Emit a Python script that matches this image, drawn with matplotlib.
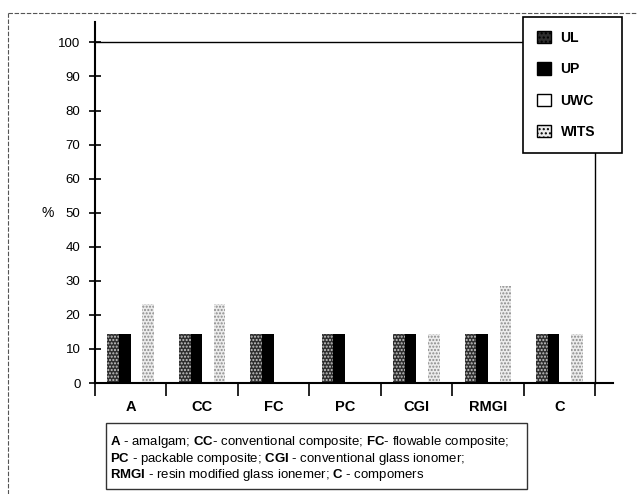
import numpy as np
import matplotlib.pyplot as plt
from matplotlib.patches import Rectangle, Patch
from matplotlib.lines import Line2D

plt.rcParams['font.family'] = ['Liberation Sans', 'DejaVu Sans']
plt.rcParams['mathtext.fontset'] = 'custom'
plt.rcParams['mathtext.rm'] = 'Liberation Sans'
plt.rcParams['mathtext.bf'] = 'Liberation Sans:bold'
plt.rcParams['hatch.linewidth'] = 1.0

# adatok
categories = ['A', 'CC', 'FC', 'PC', 'CGI', 'RMGI', 'C']
series = ['UL', 'UP', 'UWC', 'WITS']
ul = [14.3, 14.3, 14.3, 14.3, 14.3, 14.3, 14.3]
up = [14.3, 14.3, 14.3, 14.3, 14.3, 14.3, 14.3]
uwc = [0, 0, 0, 0, 0, 0, 0]
wits = [23.1, 23.1, 0, 0, 14.3, 28.6, 14.3]
yticks = [0, 10, 20, 30, 40, 50, 60, 70, 80, 90, 100]

footnote = [
    r'$\mathbf{A}$ - amalgam; $\mathbf{CC}$- conventional composite; $\mathbf{FC}$- flowable composite;',
    r'$\mathbf{PC}$ - packable composite; $\mathbf{CGI}$ - conventional glass ionomer;',
    r'$\mathbf{RMGI}$ - resin modified glass ionemer; $\mathbf{C}$ - compomers',
]

styles = [
    dict(facecolor='#2e2e2e', edgecolor='#c8c8c8', hatch='.....'),
    dict(facecolor='black', edgecolor='black'),
    dict(facecolor='white', edgecolor='black'),
    dict(facecolor='#ececec', edgecolor='#8a8a8a', hatch='.....'),
]

fig = plt.figure(figsize=(6.37, 4.94), dpi=100)
W, H = 637, 494
ax = fig.add_axes([95 / W, 1 - 383 / H, 500 / W, 361 / H])

x = np.arange(len(categories))
w = 0.163
for i, vals in enumerate([ul, up, uwc, wits]):
    ax.bar(x + (i - 1.5) * w, vals, w, linewidth=0, **styles[i])

ax.set_xlim(-0.5, len(categories) - 0.5)
ax.set_ylim(0, 106)
ax.set_yticks(yticks)
ax.set_xticks(x)
ax.set_xticklabels(categories, fontweight='bold', fontsize=10.5)
ax.set_xticks(np.arange(len(categories) + 1) - 0.5, minor=True)
ax.tick_params(axis='x', which='major', length=0, pad=12)
ax.tick_params(axis='x', which='minor', length=9, width=1.2, direction='out')
ax.tick_params(axis='y', length=9, width=1.2, direction='inout', labelsize=9.5, pad=6)
for s in ['top', 'right']:
    ax.spines[s].set_visible(False)
ax.spines['left'].set_linewidth(1.5)
ax.spines['bottom'].set_linewidth(1.5)
ax.axhline(100, color='black', lw=1.0)
ax.plot([6.5, 6.5], [0, 100], color='black', lw=1.0, clip_on=False)
ax.plot([6.5, 6.75], [0, 0], color='black', lw=1.5, clip_on=False)
ax.set_ylabel('%', rotation=0, fontsize=10, va='center', ha='center')
ax.yaxis.set_label_coords(-0.094, 50 / 106)

handles = [
    Patch(facecolor='#2e2e2e', edgecolor='black', hatch='....', linewidth=1.0),
    Patch(facecolor='black', edgecolor='black', linewidth=1.0),
    Patch(facecolor='white', edgecolor='black', linewidth=1.0),
    Patch(facecolor='#ececec', edgecolor='black', hatch='....', linewidth=1.0),
]
leg = fig.legend(handles, series, loc='upper left',
                 bbox_to_anchor=(523 / W, 1 - 155 / H, 99 / W, 138 / H), mode='expand',
                 frameon=True, fancybox=False, edgecolor='black', framealpha=1,
                 handlelength=1.0, handleheight=1.0, labelspacing=1.25,
                 borderpad=1.0, handletextpad=0.7, borderaxespad=0,
                 prop={'weight': 'bold', 'size': 10})
leg.get_frame().set_linewidth(1.2)

# lábjegyzet doboz
fig.patches.append(Rectangle((106 / W, 1 - 489 / H), 421 / W, 66 / H, transform=fig.transFigure,
                             facecolor='none', edgecolor='#333333', lw=1.0))
for k, line in enumerate(footnote):
    fig.text(110 / W, 1 - (442 + k * 16.5) / H, line, fontsize=9.5, va='center', ha='left')

# külső keret
fig.add_artist(Line2D([8 / W, 8 / W], [0, 1 - 13 / H], transform=fig.transFigure,
                      color='#555555', lw=0.8, ls=(0, (4, 1.5))))
fig.add_artist(Line2D([8 / W, 1], [1 - 13 / H, 1 - 13 / H], transform=fig.transFigure,
                      color='#555555', lw=0.8, ls=(0, (4, 1.5))))

plt.savefig('out.png', dpi=100)
